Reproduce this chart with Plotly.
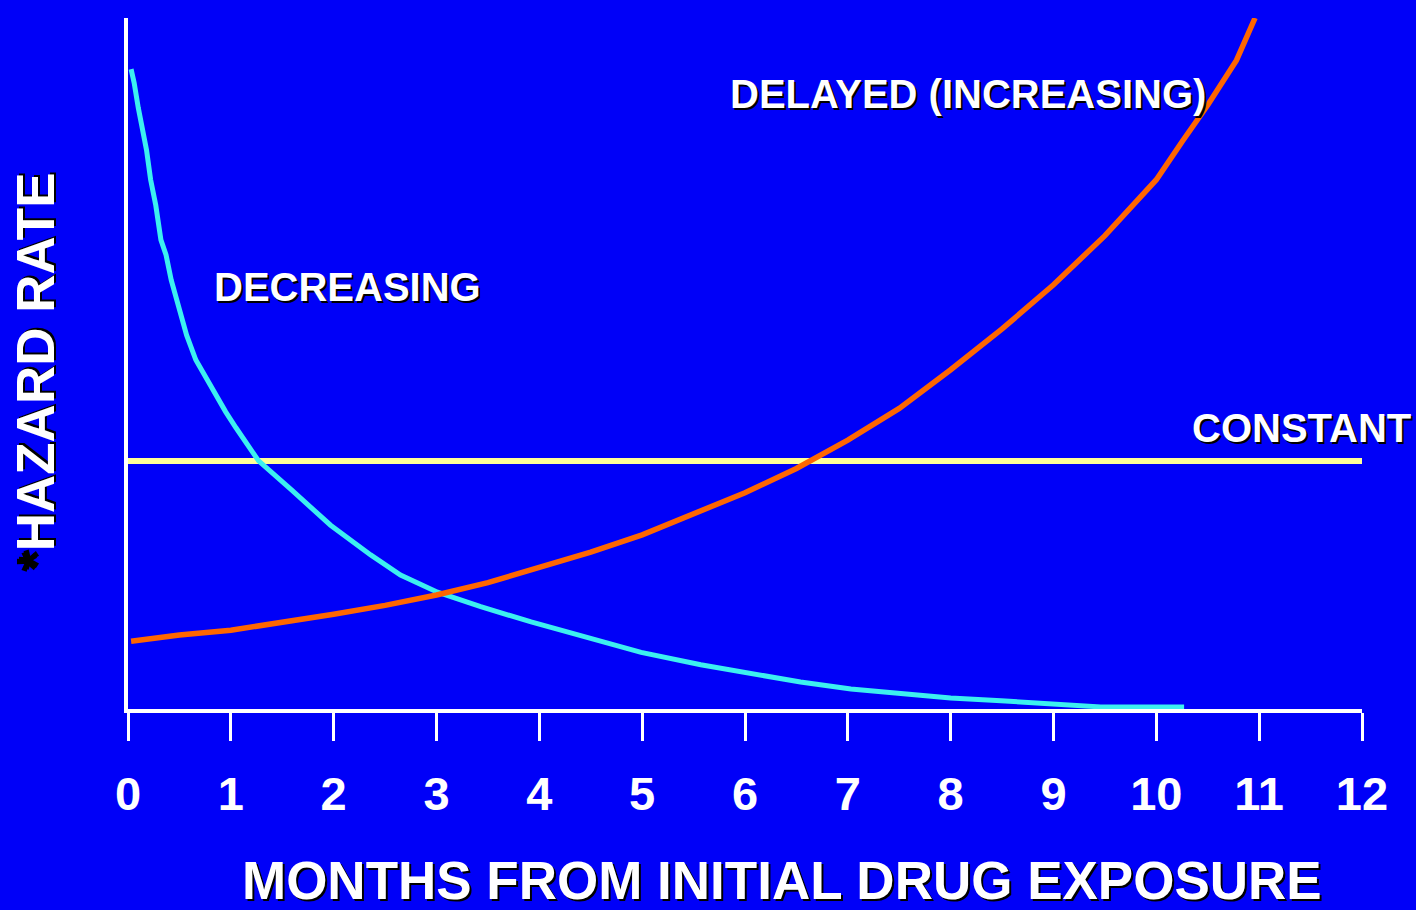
import plotly.graph_objects as go

# ---- data ----
months_decreasing = [0.03, 0.06, 0.10, 0.14, 0.18, 0.22, 0.27, 0.32, 0.37, 0.42, 0.50, 0.57,
                     0.66, 0.76, 0.86, 0.95, 1.05, 1.15, 1.27, 1.59, 1.97, 2.36, 2.65, 3.01,
                     3.43, 3.92, 4.40, 4.99, 5.57, 6.06, 6.54, 7.03, 7.52, 8.00, 8.49, 8.98,
                     9.46, 10.27]
hazard_decreasing = [92.6, 90.6, 87.0, 83.8, 80.9, 76.6, 72.9, 67.9, 65.7, 62.1, 57.7, 54.1,
                     50.5, 47.9, 45.0, 43.0, 40.7, 38.6, 35.9, 31.7, 26.6, 22.3, 19.4, 16.9,
                     14.8, 12.6, 10.6, 8.2, 6.4, 5.1, 3.9, 2.9, 2.2, 1.6, 1.2, 0.7,
                     0.3, 0.3]

months_increasing = [0.03, 0.5, 1.0, 1.5, 2.0, 2.5, 3.0, 3.5, 4.0, 4.5, 5.0, 5.5, 6.0, 6.5,
                     7.0, 7.5, 8.0, 8.5, 9.0, 9.5, 10.0, 10.26, 10.5, 10.78, 10.96]
hazard_increasing = [9.8, 10.7, 11.4, 12.5, 13.7, 15.0, 16.5, 18.3, 20.5, 22.7, 25.2, 28.2,
                     31.3, 34.8, 38.9, 43.5, 49.1, 55.0, 61.4, 68.5, 76.6, 82.3, 87.4, 93.9,
                     100.0]

months_constant = [0, 12]
hazard_constant = [35.9, 35.9]

tick_values = list(range(13))
tick_labels = [str(v) for v in tick_values]

# ---- styling ----
BG = "#0000F8"
FONT = "Liberation Sans, Arial, sans-serif"
SHADOW = "2px 2px 0px #000000"

fig = go.Figure()
fig.add_trace(go.Scatter(x=months_constant, y=hazard_constant, mode="lines",
                         line=dict(color="#FFFF99", width=6), hoverinfo="skip"))
fig.add_trace(go.Scatter(x=months_decreasing, y=hazard_decreasing, mode="lines",
                         line=dict(color="#3CF0F0", width=5), hoverinfo="skip"))
fig.add_trace(go.Scatter(x=months_increasing, y=hazard_increasing, mode="lines",
                         line=dict(color="#FF6600", width=5.5), hoverinfo="skip"))

label_font = dict(family=FONT, size=40, color="white", weight="bold", shadow=SHADOW)
fig.add_annotation(x=2.13, y=61.1, text="DECREASING", showarrow=False,
                   font=label_font, xanchor="center", yanchor="middle")
fig.add_annotation(x=8.17, y=89.0, text="DELAYED (INCREASING)", showarrow=False,
                   font=label_font, xanchor="center", yanchor="middle")
fig.add_annotation(x=11.41, y=40.7, text="CONSTANT", showarrow=False,
                   font=label_font, xanchor="center", yanchor="middle")

title_font = dict(family=FONT, size=53, color="white", weight="bold", shadow=SHADOW)
fig.add_annotation(xref="paper", yref="paper", x=0.53, y=-0.2475,
                   text="MONTHS FROM INITIAL DRUG EXPOSURE", showarrow=False,
                   font=title_font, xanchor="center", yanchor="middle", borderpad=0)
fig.add_annotation(xref="paper", yref="paper", x=-0.0746, y=0.4877, textangle=-90,
                   text="<span style='color:black'>*</span>HAZARD RATE", showarrow=False,
                   font=title_font, xanchor="center", yanchor="middle")

fig.update_layout(
    width=1416, height=910,
    margin=dict(l=128, r=54, t=18, b=201),
    paper_bgcolor=BG, plot_bgcolor=BG,
    showlegend=False,
    xaxis=dict(range=[0, 12], tickmode="array", tickvals=tick_values, ticktext=tick_labels,
               showgrid=False, zeroline=False, showline=True, linecolor="white", linewidth=4,
               ticks="outside", ticklen=28, tickwidth=3, tickcolor="white",
               tickfont=dict(family=FONT, size=47, color="white", weight="bold"),
               ticklabelstandoff=13, fixedrange=True),
    yaxis=dict(range=[0, 100], showgrid=False, zeroline=False, showline=True,
               linecolor="white", linewidth=4, showticklabels=False, ticks="",
               fixedrange=True),
)

fig.write_html("out.html")
